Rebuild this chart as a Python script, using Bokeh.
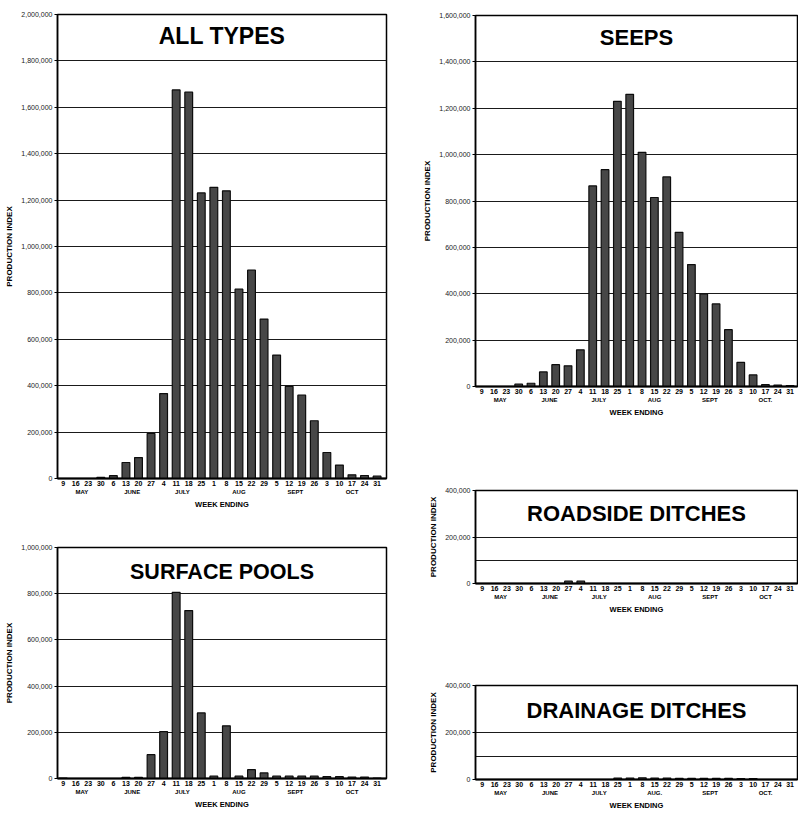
from bokeh.plotting import figure
from bokeh.layouts import row, column
from bokeh.models import (ColumnDataSource, Range1d, FixedTicker, LinearAxis,
                          NumeralTickFormatter, Label)
from bokeh.embed import file_html
from bokeh.resources import INLINE

# ---------------- data ----------------
week_days = ["9", "16", "23", "30", "6", "13", "20", "27", "4", "11", "18", "25",
             "1", "8", "15", "22", "29", "5", "12", "19", "26", "3", "10", "17", "24", "31"]
week_month = ["MAY"] * 4 + ["JUNE"] * 4 + ["JULY"] * 4 + ["AUG"] * 5 + ["SEPT"] * 4 + ["OCT"] * 5
month_names = ["MAY", "JUNE", "JULY", "AUG", "SEPT", "OCT"]

all_types = [0, 0, 0, 5000, 12000, 69000, 90000, 194000, 366000, 1675000, 1665000, 1231000,
             1255000, 1240000, 816000, 898000, 687000, 532000, 397000, 359000, 249000,
             112000, 58000, 16000, 13000, 10000]
seeps = [0, 0, 0, 10000, 14000, 63000, 94000, 89000, 158000, 865000, 935000, 1230000,
         1260000, 1010000, 815000, 904000, 665000, 526000, 399000, 356000, 245000,
         104000, 50000, 8000, 6000, 4000]
surface_pools = [2000, 0, 0, 0, 0, 5000, 5000, 103000, 203000, 806000, 727000, 284000,
                 10000, 228000, 10000, 38000, 24000, 10000, 10000, 10000, 10000,
                 8000, 8000, 6000, 6000, 2000]
roadside_ditches = [0, 0, 0, 0, 0, 0, 0, 10000, 10000, 0, 0, 0,
                    0, 0, 0, 0, 0, 0, 0, 0, 0,
                    0, 0, 0, 0, 0]
drainage_ditches = [0, 0, 0, 0, 0, 0, 0, 0, 0, 0, 0, 6000,
                    6000, 7000, 6000, 6000, 5000, 5000, 5000, 5000, 5000,
                    4000, 4000, 0, 0, 0]

FONT = "Liberation Sans"


def month_centers(labels):
    centers = {}
    for m in month_names:
        idx = [i for i, w in enumerate(week_month) if w == m]
        centers[float(sum(idx)) / len(idx)] = labels.get(m, m)
    return centers


def make_panel(title, values, ymax, axis_ticks, grid_ticks, width, height,
               mb_left, mb_right, mb_top, mb_bottom, title_frac, title_size,
               xr=(-0.45, 25.75), month_labels=None):
    x = list(range(len(week_days)))
    src = ColumnDataSource(dict(x=x, top=values))
    p = figure(width=width, height=height, x_range=Range1d(*xr), y_range=Range1d(0, ymax),
               output_backend="svg", toolbar_location=None,
               min_border_left=mb_left, min_border_right=mb_right,
               min_border_top=mb_top, min_border_bottom=mb_bottom)
    p.vbar(x="x", top="top", width=0.62, source=src,
           fill_color="#474747", line_color="#0d0d0d", line_width=1.2)

    p.xgrid.visible = False
    p.ygrid.ticker = FixedTicker(ticks=grid_ticks)
    p.ygrid.grid_line_color = "#1a1a1a"
    p.ygrid.grid_line_width = 1
    p.outline_line_color = "black"
    p.outline_line_width = 1.5
    p.background_fill_color = "white"

    ya = p.yaxis[0]
    ya.ticker = FixedTicker(ticks=axis_ticks)
    ya.formatter = NumeralTickFormatter(format="0,0")
    ya.axis_label = "PRODUCTION INDEX"
    ya.axis_label_text_font = FONT
    ya.axis_label_text_font_style = "bold"
    ya.axis_label_text_font_size = "8px"
    ya.axis_label_text_color = "black"
    ya.axis_label_standoff = 4
    ya.major_label_text_font = FONT
    ya.major_label_text_font_size = "7px"
    ya.major_label_text_color = "#1a1a1a"
    ya.major_label_standoff = 2
    ya.major_tick_out = 3
    ya.major_tick_in = 0
    ya.minor_tick_line_color = None
    ya.axis_line_color = "black"
    ya.axis_line_width = 1.5

    xa = p.xaxis[0]
    xa.ticker = FixedTicker(ticks=x)
    xa.major_label_overrides = {i: d for i, d in zip(x, week_days)}
    xa.major_label_text_font = FONT
    xa.major_label_text_font_style = "bold"
    xa.major_label_text_font_size = "7px"
    xa.major_label_text_color = "black"
    xa.major_label_standoff = 2
    xa.major_tick_out = 0
    xa.major_tick_in = 0
    xa.minor_tick_line_color = None
    xa.axis_line_color = "black"
    xa.axis_line_width = 2

    centers = month_centers(month_labels or {})
    ma = LinearAxis(ticker=FixedTicker(ticks=list(centers.keys())),
                    major_label_overrides=centers,
                    axis_line_color=None, major_tick_line_color=None,
                    minor_tick_line_color=None, major_tick_out=0, major_tick_in=0,
                    major_label_standoff=0,
                    major_label_text_font=FONT, major_label_text_font_style="bold",
                    major_label_text_font_size="6px", major_label_text_color="black",
                    axis_label="WEEK ENDING", axis_label_standoff=2,
                    axis_label_text_font=FONT, axis_label_text_font_style="bold",
                    axis_label_text_font_size="7.5px", axis_label_text_color="black")
    p.add_layout(ma, "below")

    p.add_layout(Label(x=(xr[0] + xr[1]) / 2, y=ymax * title_frac, text=title,
                       text_align="center", text_baseline="middle",
                       text_font=FONT, text_font_style="bold",
                       text_font_size=title_size, text_color="black"))
    return p


# left column (width 420)
p1 = make_panel("ALL TYPES", all_types, 2000000,
                list(range(0, 2000001, 200000)), list(range(200000, 2000000, 200000)),
                420, 512, 57, 33, 14, 34, 0.953, "23px")
p3 = make_panel("SURFACE POOLS", surface_pools, 1000000,
                list(range(0, 1000001, 200000)), list(range(200000, 1000000, 200000)),
                420, 300, 53, 34, 35, 34, 0.896, "21.5px")
# right column (width 378)
p2 = make_panel("SEEPS", seeps, 1600000,
                list(range(0, 1600001, 200000)), list(range(200000, 1600000, 200000)),
                378, 420, 52, 1, 15, 34, 0.94, "22px",
                xr=(-0.5, 25.6), month_labels={"OCT": "OCT."})
p4 = make_panel("ROADSIDE DITCHES", roadside_ditches, 400000,
                [0, 200000, 400000], [100000, 200000],
                378, 197, 50, 1, 70, 34, 0.75, "22px", xr=(-0.55, 25.6))
p5 = make_panel("DRAINAGE DITCHES", drainage_ditches, 400000,
                [0, 200000, 400000], [100000, 200000],
                378, 195, 50, 1, 68, 33, 0.73, "22px", xr=(-0.55, 25.6),
                month_labels={"AUG": "AUG.", "OCT": "OCT."})

layout = row(column(p1, p3), column(p2, p4, p5))

with open("out.html", "w") as f:
    f.write(file_html(layout, INLINE))
